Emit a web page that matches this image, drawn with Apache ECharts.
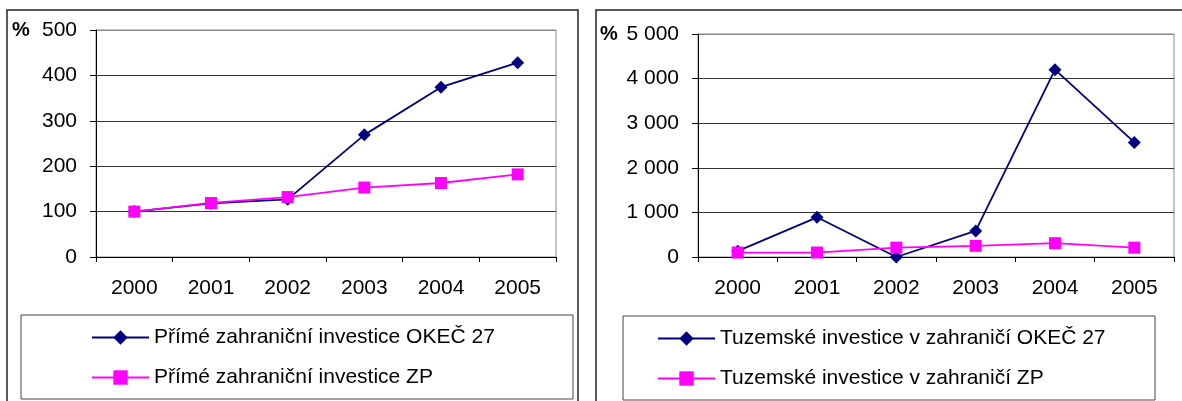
<!DOCTYPE html>
<html>
<head>
<meta charset="utf-8">
<script src="https://cdn.jsdelivr.net/npm/echarts@6/dist/echarts.min.js"></script>
<style>
  html, body { margin: 0; padding: 0; background: #fff; }
  #chart { width: 1182px; height: 401px; }
</style>
</head>
<body>
<div id="chart"></div>
<script>
// roky
const years = ['2000', '2001', '2002', '2003', '2004', '2005'];

// levý graf - přímé zahraniční investice (%)
const pziOkec = [100, 118, 127, 269, 374, 428];
const pziZp = [100, 119, 132, 153, 163, 182];

// pravý graf - tuzemské investice v zahraničí (%)
const tizOkec = [130, 890, 0, 585, 4200, 2570];
const tizZp = [100, 100, 210, 250, 310, 210];

const leftNames = ['Přímé zahraniční investice OKEČ 27', 'Přímé zahraniční investice ZP'];
const rightNames = ['Tuzemské investice v zahraničí OKEČ 27', 'Tuzemské investice v zahraničí ZP'];

const font = 'Liberation Sans, Arial, sans-serif';
const navy = '#000080';
const pink = '#ff00ff';

function xAxis(gridIndex) {
  return {
    type: 'category',
    gridIndex: gridIndex,
    data: years,
    boundaryGap: true,
    axisLine: { lineStyle: { color: '#000', width: 1 } },
    axisTick: { show: true, interval: 0, length: 5, lineStyle: { color: '#000' } },
    axisLabel: { color: '#000', fontSize: 21, fontFamily: font, margin: 21 },
    splitLine: { show: false }
  };
}

function yAxis(gridIndex, max, interval, fmt) {
  return {
    type: 'value',
    gridIndex: gridIndex,
    min: 0,
    max: max,
    interval: interval,
    axisLine: { show: true, lineStyle: { color: '#000', width: 1 } },
    axisTick: { show: true, length: 6, lineStyle: { color: '#000' } },
    axisLabel: { color: '#000', fontSize: 21, fontFamily: font, margin: 19, formatter: fmt },
    splitLine: {
      show: true,
      lineStyle: { color: ['#333', '#333', '#333', '#333', '#333', '#888'], width: 1 }
    }
  };
}

function line(name, data, axisIdx, color, symbol, size) {
  return {
    name: name,
    type: 'line',
    xAxisIndex: axisIdx,
    yAxisIndex: axisIdx,
    data: data,
    symbol: symbol,
    symbolSize: size,
    showAllSymbol: true,
    itemStyle: { color: color },
    lineStyle: { color: color, width: 1.8 },
    animation: false
  };
}

// jedna legenda na položku, ať jsou pod sebou
function legend(name, left, top) {
  return {
    data: [name],
    left: left, top: top,
    itemWidth: 57, itemHeight: 18,
    textStyle: { color: '#000', fontSize: 21, fontFamily: font },
    selectedMode: false
  };
}

const chart = echarts.init(document.getElementById('chart'));

chart.setOption({
  backgroundColor: '#fff',
  animation: false,
  grid: [
    { left: 96, top: 30, width: 460, height: 227, show: true, borderColor: '#888', borderWidth: 1 },
    { left: 698, top: 34, width: 476, height: 223, show: true, borderColor: '#888', borderWidth: 1 }
  ],
  xAxis: [xAxis(0), xAxis(1)],
  yAxis: [
    yAxis(0, 500, 100, v => String(v)),
    yAxis(1, 5000, 1000, v => v >= 1000 ? Math.floor(v / 1000) + ' ' + String(v % 1000).padStart(3, '0') : String(v))
  ],
  legend: [
    legend(leftNames[0], 86, 322),
    legend(leftNames[1], 86, 362),
    legend(rightNames[0], 652, 323),
    legend(rightNames[1], 652, 363)
  ],
  graphic: [
    // rámečky panelů
    { type: 'rect', shape: { x: 7, y: 10, width: 571, height: 400 }, style: { fill: null, stroke: '#222', lineWidth: 1.5 }, z: -1 },
    { type: 'rect', shape: { x: 596, y: 10, width: 600, height: 400 }, style: { fill: null, stroke: '#222', lineWidth: 1.5 }, z: -1 },
    // rámečky legend
    { type: 'rect', shape: { x: 21, y: 315, width: 552, height: 84 }, style: { fill: null, stroke: '#444', lineWidth: 1 }, z: -1 },
    { type: 'rect', shape: { x: 623, y: 316, width: 532, height: 84 }, style: { fill: null, stroke: '#444', lineWidth: 1 }, z: -1 },
    // %
    { type: 'text', left: 12, top: 20, style: { text: '%', fill: '#000', font: 'bold 20px ' + font } },
    { type: 'text', left: 600, top: 24, style: { text: '%', fill: '#000', font: 'bold 20px ' + font } }
  ],
  series: [
    line(leftNames[0], pziOkec, 0, navy, 'diamond', 13),
    line(leftNames[1], pziZp, 0, pink, 'rect', 12),
    line(rightNames[0], tizOkec, 1, navy, 'diamond', 13),
    line(rightNames[1], tizZp, 1, pink, 'rect', 12)
  ]
});
</script>
</body>
</html>
